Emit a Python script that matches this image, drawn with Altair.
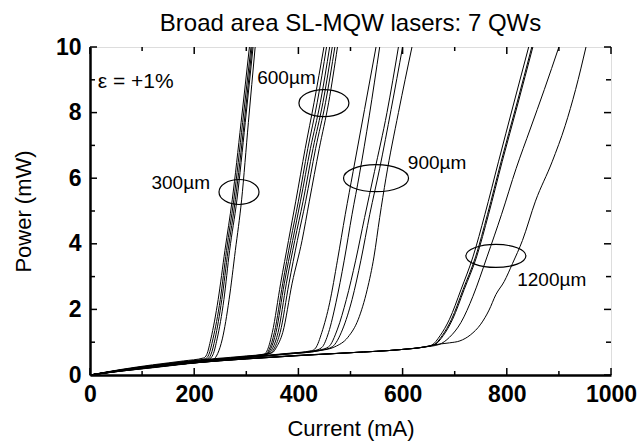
import altair as alt
import pandas as pd

# ---------------- data ----------------
# 300 um cavity length
CUR_300 = [
    [0, 60, 120, 180, 218, 224, 232, 246, 259, 273, 290, 306],
    [0, 60, 120, 180, 222, 228, 236, 250, 262, 276, 293, 309],
    [0, 60, 120, 180, 225, 232, 240, 253, 265, 279, 296, 311],
    [0, 60, 120, 180, 228, 236, 244, 257, 268, 282, 298, 313],
    [0, 60, 120, 180, 236, 245, 254, 267, 279, 291, 304, 317],
]
POW_300 = [
    [0, 0.17, 0.31, 0.43, 0.52, 0.62, 1.1, 2.3, 3.8, 5.34, 7.7, 10],
    [0, 0.15, 0.28, 0.40, 0.50, 0.62, 1.1, 2.3, 3.8, 5.34, 7.7, 10],
    [0, 0.14, 0.26, 0.38, 0.49, 0.62, 1.1, 2.3, 3.8, 5.34, 7.7, 10],
    [0, 0.13, 0.25, 0.36, 0.48, 0.62, 1.1, 2.3, 3.8, 5.34, 7.7, 10],
    [0, 0.12, 0.23, 0.34, 0.47, 0.65, 1.1, 2.3, 3.8, 5.34, 7.7, 10],
]
# 600 um
CUR_600 = [
    [0, 60, 120, 180, 240, 300, 335, 341, 350, 366, 381, 395, 413, 430, 449],
    [0, 60, 120, 180, 240, 300, 338, 344, 354, 370, 385, 400, 418, 436, 454],
    [0, 60, 120, 180, 240, 300, 340, 347, 357, 373, 389, 404, 423, 442, 460],
    [0, 60, 120, 180, 240, 300, 343, 350, 361, 377, 393, 409, 428, 447, 465],
    [0, 60, 120, 180, 240, 300, 346, 354, 365, 382, 398, 414, 433, 452, 470],
    [0, 60, 120, 180, 240, 300, 350, 358, 370, 388, 407, 421, 440, 458, 475],
]
POW_600 = [
    [0, 0.16, 0.29, 0.41, 0.50, 0.58, 0.64, 0.78, 1.3, 2.8, 4.1, 5.3, 6.9, 8.3, 10],
    [0, 0.15, 0.27, 0.39, 0.48, 0.57, 0.64, 0.78, 1.3, 2.8, 4.1, 5.3, 6.9, 8.3, 10],
    [0, 0.14, 0.26, 0.37, 0.47, 0.56, 0.65, 0.80, 1.3, 2.8, 4.1, 5.3, 6.9, 8.3, 10],
    [0, 0.13, 0.24, 0.35, 0.45, 0.55, 0.66, 0.80, 1.3, 2.8, 4.1, 5.3, 6.9, 8.3, 10],
    [0, 0.12, 0.23, 0.34, 0.44, 0.54, 0.66, 0.82, 1.3, 2.8, 4.1, 5.3, 6.9, 8.3, 10],
    [0, 0.12, 0.22, 0.33, 0.43, 0.53, 0.68, 0.85, 1.3, 2.8, 4.1, 5.3, 6.9, 8.3, 10],
]
# 900 um
CUR_900 = [
    [0, 100, 200, 300, 380, 425, 433, 445, 460, 475, 490, 505, 527, 549],
    [0, 100, 200, 300, 380, 430, 445, 458, 472, 488, 503, 517, 536, 556],
    [0, 100, 200, 300, 380, 440, 458, 475, 492, 510, 527, 546, 570, 592],
    [0, 100, 200, 300, 380, 445, 465, 485, 503, 520, 537, 556, 578, 600],
    [0, 100, 200, 300, 380, 440, 470, 495, 515, 532, 545, 556, 568, 592, 618],
]
POW_900 = [
    [0, 0.25, 0.42, 0.55, 0.66, 0.74, 0.82, 1.3, 2.2, 3.5, 4.9, 6.2, 8.1, 10],
    [0, 0.24, 0.41, 0.54, 0.65, 0.74, 0.84, 1.3, 2.2, 3.5, 4.9, 6.1, 7.9, 10],
    [0, 0.24, 0.41, 0.54, 0.65, 0.76, 0.86, 1.4, 2.3, 3.5, 4.8, 6.2, 8.0, 10],
    [0, 0.23, 0.40, 0.53, 0.64, 0.76, 0.86, 1.4, 2.3, 3.5, 4.9, 6.3, 8.1, 10],
    [0, 0.23, 0.40, 0.53, 0.64, 0.74, 0.86, 1.15, 1.7, 2.6, 3.6, 4.8, 6.0, 8.0, 10],
]
# 1200 um
CUR_1200 = [
    [0, 100, 200, 300, 400, 500, 600, 640, 656, 672, 690, 712, 735, 758, 784, 812, 842],
    [0, 100, 200, 300, 400, 500, 600, 640, 660, 676, 694, 716, 740, 763, 789, 818, 848],
    [0, 100, 200, 300, 400, 500, 600, 640, 662, 678, 696, 718, 742, 765, 791, 820, 850],
    [0, 100, 200, 300, 400, 500, 600, 640, 670, 690, 712, 735, 762, 790, 818, 845, 872, 900],
    [0, 100, 200, 300, 400, 500, 600, 640, 660, 690, 710, 730, 750, 766, 779, 795, 811, 830,
     855, 887, 912, 932, 952],
]
POW_1200 = [
    [0, 0.22, 0.38, 0.50, 0.60, 0.68, 0.78, 0.85, 0.91, 1.2, 1.7, 2.6, 3.6, 4.9, 6.5, 8.2, 10],
    [0, 0.22, 0.38, 0.50, 0.60, 0.68, 0.78, 0.85, 0.92, 1.2, 1.7, 2.6, 3.6, 4.9, 6.5, 8.2, 10],
    [0, 0.21, 0.37, 0.49, 0.59, 0.68, 0.78, 0.85, 0.93, 1.2, 1.7, 2.6, 3.6, 4.9, 6.5, 8.2, 10],
    [0, 0.21, 0.37, 0.49, 0.59, 0.68, 0.78, 0.85, 0.93, 1.15, 1.6, 2.4, 3.6, 4.9, 6.3, 7.5, 8.7, 10],
    [0, 0.21, 0.37, 0.49, 0.59, 0.68, 0.78, 0.85, 0.92, 0.98, 1.04, 1.22, 1.55, 1.98, 2.45,
     2.85, 3.4, 4.1, 5.3, 6.5, 7.6, 8.7, 10],
]

GROUPS = ["300", "600", "900", "1200"]

# ellipse annotations: centre (mA, mW) and size in pixels
ELL_I = [286, 449, 549, 779]
ELL_P = [5.58, 8.29, 6.0, 3.63]
ELL_W = [40, 50, 65, 60]
ELL_H = [25, 27, 27, 23]

# text annotations
TXT = ["ε = +1%", "300µm", "600µm", "900µm", "1200µm"]
TXT_I = [15, 118, 321, 610, 820]
TXT_P = [8.93, 5.85, 9.05, 6.46, 2.9]
TXT_SIZE = [21, 19, 19, 19, 19]

X_MAJOR = [0, 200, 400, 600, 800, 1000]
X_MINOR = [100, 300, 500, 700, 900]
Y_MAJOR = [0, 2, 4, 6, 8, 10]
Y_MINOR = [1, 3, 5, 7, 9]

# ---------------- build ----------------
W, H = 521, 328
FONT = "Liberation Sans"

rows = []
for g, curs, pows in zip(GROUPS, [CUR_300, CUR_600, CUR_900, CUR_1200],
                         [POW_300, POW_600, POW_900, POW_1200]):
    for k, (cc, pp) in enumerate(zip(curs, pows)):
        for c, p in zip(cc, pp):
            rows.append({"curve": f"{g}-{k}", "I": c, "P": p})
df = pd.DataFrame(rows)

xs = alt.Scale(domain=[0, 1000], nice=False, zero=False)
ys = alt.Scale(domain=[0, 10], nice=False, zero=False)

xaxis = alt.Axis(values=X_MAJOR, format="d", labelFont=FONT, labelFontSize=23,
                 labelFontWeight="bold", labelColor="black", labelPadding=8,
                 labelFlush=False, labelOverlap=False, ticks=False, grid=False,
                 domainColor="black", domainWidth=2.5, titleFont=FONT,
                 titleFontSize=22, titleFontWeight="normal", titleColor="black",
                 titlePadding=12)
yaxis = alt.Axis(values=Y_MAJOR, format="d", labelFont=FONT, labelFontSize=23,
                 labelFontWeight="bold", labelColor="black", labelPadding=9,
                 labelFlush=False, labelOverlap=False, ticks=False, grid=False,
                 domainColor="black", domainWidth=2.5, titleFont=FONT,
                 titleFontSize=22, titleFontWeight="normal", titleColor="black",
                 titlePadding=20)

X_T = "Current (mA)"
Y_T = "Power (mW)"

lines = alt.Chart(df).mark_line(color="black", strokeWidth=1, interpolate="monotone",
                                clip=True).encode(
    x=alt.X("I:Q", scale=xs, axis=xaxis, title=X_T),
    y=alt.Y("P:Q", scale=ys, axis=yaxis, title=Y_T),
    detail="curve:N",
    order="I:Q",
)

def ell_path(w, h):
    r = h / w
    k = 0.5523
    return (f"M -1 0 C -1 {-k*r:.4f} {-k:.4f} {-r:.4f} 0 {-r:.4f} "
            f"C {k:.4f} {-r:.4f} 1 {-k*r:.4f} 1 0 "
            f"C 1 {k*r:.4f} {k:.4f} {r:.4f} 0 {r:.4f} "
            f"C {-k:.4f} {r:.4f} -1 {k*r:.4f} -1 0 Z")

ell_layers = []
for ci, cp, w, h in zip(ELL_I, ELL_P, ELL_W, ELL_H):
    ell_layers.append(
        alt.Chart(pd.DataFrame({"I": [ci], "P": [cp]})).mark_point(
            shape=ell_path(w, h), size=w * w, filled=False, color="black",
            strokeWidth=1.2, opacity=1).encode(
            x=alt.X("I:Q", scale=xs, title=X_T),
            y=alt.Y("P:Q", scale=ys, title=Y_T))
    )

text_layers = []
for t, ti, tp, fs in zip(TXT, TXT_I, TXT_P, TXT_SIZE):
    text_layers.append(
        alt.Chart(pd.DataFrame({"I": [ti], "P": [tp], "t": [t]})).mark_text(
            align="left", baseline="middle", font=FONT, fontSize=fs,
            color="black").encode(
            x=alt.X("I:Q", scale=xs, title=X_T),
            y=alt.Y("P:Q", scale=ys, title=Y_T),
            text="t:N")
    )

def xticks(vals, L):
    d = pd.DataFrame({"I": vals})
    bot = alt.Chart(d).mark_rule(color="black", strokeWidth=1.5).encode(
        x=alt.X("I:Q", scale=xs, title=X_T),
        y=alt.value(H), y2=alt.value(H - L))
    top = alt.Chart(d).mark_rule(color="black", strokeWidth=1.5).encode(
        x=alt.X("I:Q", scale=xs, title=X_T),
        y=alt.value(0), y2=alt.value(L))
    return [bot, top]

def yticks(vals, L):
    d = pd.DataFrame({"P": vals})
    lef = alt.Chart(d).mark_rule(color="black", strokeWidth=1.5).encode(
        y=alt.Y("P:Q", scale=ys, title=Y_T),
        x=alt.value(0), x2=alt.value(L))
    rig = alt.Chart(d).mark_rule(color="black", strokeWidth=1.5).encode(
        y=alt.Y("P:Q", scale=ys, title=Y_T),
        x=alt.value(W), x2=alt.value(W - L))
    return [lef, rig]

tick_layers = xticks(X_MAJOR, 7) + xticks(X_MINOR, 4) + yticks(Y_MAJOR, 7) + yticks(Y_MINOR, 5)

chart = alt.layer(lines, *ell_layers, *text_layers, *tick_layers).properties(
    width=W, height=H,
    padding={"left": 90, "top": 47, "right": 31, "bottom": 71},
    autosize=alt.AutoSizeParams(type="none"),
    title=alt.Title("Broad area SL-MQW lasers: 7 QWs", font=FONT, fontSize=24,
                    fontWeight="normal", color="black", anchor="middle", offset=0),
).configure_view(stroke="black", strokeWidth=1.5).configure(background="white")

chart.save("out.html", embed_options={"renderer": "svg", "actions": False})
